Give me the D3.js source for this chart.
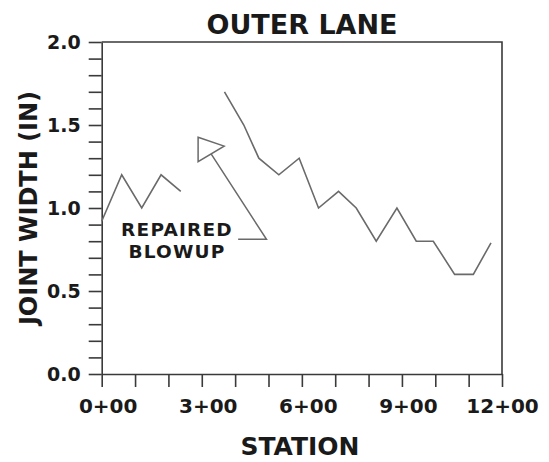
<!DOCTYPE html>
<html>
<head>
<meta charset="utf-8">
<script src="https://cdn.jsdelivr.net/npm/d3@7"></script>
<style>
  html, body { margin: 0; padding: 0; background: #fff; }
  svg { display: block; }
  text { font-family: "DejaVu Sans", sans-serif; fill: #1a1a1a; }
</style>
</head>
<body>
<script>
// ---- data ----
const titleText = "OUTER LANE";
const xTitle = "STATION";
const yTitle = "JOINT WIDTH (IN)";
// station in hundreds of feet
const stationsBefore = [0, 0.60, 1.20, 1.78, 2.37];
const widthBefore    = [0.92, 1.2, 1.0, 1.2, 1.1];
const stationsAfter  = [3.68, 4.26, 4.71, 5.31, 5.92, 6.50, 7.10, 7.63, 8.23, 8.85, 9.43, 9.94, 10.58, 11.14, 11.67];
const widthAfter     = [1.7, 1.5, 1.3, 1.2, 1.3, 1.0, 1.1, 1.0, 0.8, 1.0, 0.8, 0.8, 0.6, 0.6, 0.79];
const xTicks = [0,1,2,3,4,5,6,7,8,9,10,11,12];
const xTickLabels = [0,3,6,9,12];
const yTickLabels = [0.0, 0.5, 1.0, 1.5, 2.0];
const annotationLines = ["REPAIRED", "BLOWUP"];
// arrow annotation in data units (station, width)
const arrowHead = [[2.89, 1.426], [3.67, 1.373], [2.89, 1.279]];
const arrowTail = [[3.28, 1.326], [4.94, 0.811], [4.09, 0.811]];
const labelAnchor = [2.24, 0.83];

const W = 549, H = 462;
const svg = d3.select("body").append("svg").attr("width", W).attr("height", H);
svg.append("rect").attr("width", W).attr("height", H).attr("fill", "#fff");

const x = d3.scaleLinear().domain([0, 12]).range([101.7, 502]);
const y = d3.scaleLinear().domain([0, 2]).range([374, 42]);

const axisColor = "#3a3a3a";
const lineColor = "#6a6a6a";

// frame (top & right)
svg.append("path")
  .attr("d", `M${x(0)},${y(2)}H${x(12)}V${y(0)}`)
  .attr("fill", "none").attr("stroke", axisColor).attr("stroke-width", 1.6);

// x axis
const xAxis = d3.axisBottom(x).tickValues(xTicks).tickSize(13).tickSizeOuter(0)
  .tickFormat(d => xTickLabels.includes(d) ? d + "+00" : "");
const gx = svg.append("g").attr("transform", `translate(0,${y(0)})`).call(xAxis);
gx.select(".domain").attr("stroke", axisColor).attr("stroke-width", 1.6);
gx.selectAll(".tick line").attr("stroke", axisColor).attr("stroke-width", 1.6);
gx.selectAll(".tick text").attr("font-size", 20).attr("font-weight", "bold")
  .attr("font-family", "DejaVu Sans").attr("fill", "#1a1a1a")
  .attr("dx", d => d === 12 ? 0 : 6).attr("y", 0).attr("dy", 39);

// y axis
const yMinor = d3.range(0, 21).map(i => i / 10);
const yAxis = d3.axisLeft(y).tickValues(yMinor).tickSize(13).tickSizeOuter(0)
  .tickFormat(d => yTickLabels.some(v => Math.abs(v - d) < 1e-9) ? d3.format(".1f")(d) : "");
const gy = svg.append("g").attr("transform", `translate(${x(0)},0)`).call(yAxis);
gy.select(".domain").attr("stroke", axisColor).attr("stroke-width", 1.6);
gy.selectAll(".tick line").attr("stroke", axisColor).attr("stroke-width", 1.6);
gy.selectAll(".tick text").attr("font-size", 19).attr("font-weight", "bold")
  .attr("font-family", "DejaVu Sans").attr("fill", "#1a1a1a")
  .attr("x", -21).attr("dy", "0.36em");

// data lines
const line = d3.line().x(d => x(d[0])).y(d => y(d[1]));
svg.append("path").datum(d3.zip(stationsBefore, widthBefore))
  .attr("d", line).attr("fill", "none").attr("stroke", lineColor).attr("stroke-width", 1.6)
  .attr("stroke-linejoin", "miter");
svg.append("path").datum(d3.zip(stationsAfter, widthAfter))
  .attr("d", line).attr("fill", "none").attr("stroke", lineColor).attr("stroke-width", 1.6)
  .attr("stroke-linejoin", "miter");

// arrow annotation
svg.append("path").datum(arrowHead)
  .attr("d", d => line(d) + "Z").attr("fill", "none").attr("stroke", lineColor).attr("stroke-width", 1.5);
svg.append("path").datum(arrowTail)
  .attr("d", line).attr("fill", "none").attr("stroke", lineColor).attr("stroke-width", 1.5);

annotationLines.forEach((t, i) => {
  svg.append("text").attr("text-anchor", "middle")
    .attr("font-size", 18.5).attr("font-weight", "bold").attr("letter-spacing", 1.2)
    .attr("x", x(labelAnchor[0]) + 0.6).attr("y", y(labelAnchor[1]) + i * 22).text(t);
});

// titles
svg.append("text").attr("x", 302).attr("y", 34).attr("text-anchor", "middle")
  .attr("font-size", 27).attr("font-weight", "bold").text(titleText);
svg.append("text").attr("x", 300).attr("y", 455).attr("text-anchor", "middle")
  .attr("font-size", 25).attr("font-weight", "bold").text(xTitle);
svg.append("text").attr("transform", `translate(37,${(y(0) + y(2)) / 2}) rotate(-90)`)
  .attr("text-anchor", "middle").attr("font-size", 24).attr("font-weight", "bold").text(yTitle);
</script>
</body>
</html>
